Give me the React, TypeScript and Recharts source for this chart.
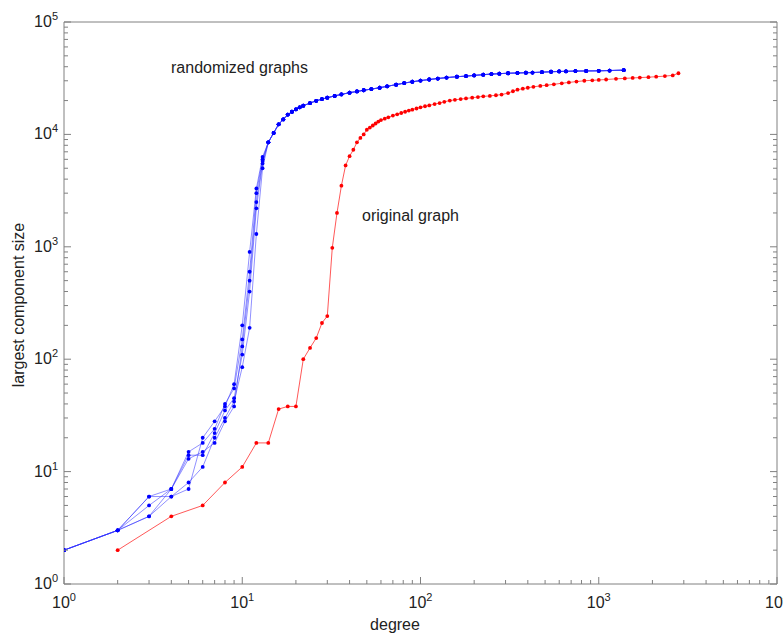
import { LineChart, Line, XAxis, YAxis } from 'recharts';

// degree thresholds where the randomized realisations still differ
const lowDegree = [1, 2, 3, 4, 5, 6, 7, 8, 9, 10, 11, 12, 13];
const rand1 = [2, 3, 6, 7, 15, 18, 24, 40, 55, 150, 600, 3000, 6000];
const rand2 = [2, 3, 5, 7, 14, 14, 22, 35, 45, 110, 400, 2200, 5500];
const rand3 = [2, 3, 4, 6, 8, 11, 20, 30, 42, 85, 190, 1300, 5000];
const rand4 = [2, 3, 6, 6, 7, 20, 28, 38, 60, 200, 900, 3300, 6300];
const rand5 = [2, 3, 4, 7, 13, 15, 18, 28, 38, 130, 500, 2500, 5800];

// above ~14 all realisations sit on top of each other
const upperDegree = [
  14, 15, 16, 17, 18, 19, 20, 21, 22, 24, 26, 28, 30, 33, 36, 40, 44, 48, 53, 59, 65, 73, 81, 90,
  100, 112, 125, 140, 160, 180, 200, 225, 250, 277, 310, 350, 390, 425, 480, 540, 600, 655, 740,
  850, 1000, 1150, 1380,
];
const upperSize = [
  8500, 10300, 12300, 13600, 15000, 15900, 16700, 17400, 18000, 19000, 19900, 20600, 21200, 22000,
  22700, 23500, 24100, 24700, 25300, 26000, 26800, 27700, 28600, 29400, 30100, 30800, 31400, 32000,
  32600, 33000, 33500, 34000, 34400, 34700, 35000, 35200, 35400, 35500, 35800, 36100, 36300, 36400,
  36600, 36700, 36800, 37000, 37300,
];

const origDegree = [
  2, 4, 6, 8, 10, 12, 14, 16, 18, 20, 22, 24, 26, 28, 30, 32, 34, 36, 38, 40, 42, 44, 46, 48, 50,
  52, 54, 56, 58, 60, 63, 66, 70, 74, 78, 82, 86, 90, 95, 100, 106, 112, 120, 128, 136, 146, 156,
  168, 180, 195, 210, 225, 245, 265, 285, 310, 330, 350, 375, 400, 430, 470, 510, 560, 620, 680,
  750, 830, 920, 1000, 1100, 1250, 1400, 1550, 1700, 1900, 2100, 2350, 2600, 2800,
];
const origSize = [
  2, 4, 5, 8, 11, 18, 18, 36, 38, 38, 100, 126, 154, 210, 242, 980, 2000, 3500, 5300, 6400, 7300,
  8500, 9300, 10000, 11000, 11500, 12000, 12500, 13000, 13400, 13800, 14200, 14700, 15100, 15500,
  15900, 16300, 16600, 17000, 17400, 17800, 18100, 18600, 19000, 19500, 20000, 20300, 20600, 20900,
  21200, 21500, 21800, 22000, 22300, 22600, 23300, 24200, 25000, 25500, 26000, 26500, 27000, 27400,
  27900, 28500, 29000, 29500, 30000, 30300, 30500, 30800, 31200, 31500, 31800, 32000, 32300, 32600,
  33000, 33500, 35000,
];

const xMajor = [1, 10, 100, 1000, 10000];
const yMajor = [1, 10, 100, 1000, 10000, 100000];
const minorSteps = [2, 3, 4, 5, 6, 7, 8, 9];

const withMinor = (majors: number[]) =>
  majors.flatMap((m, i) => (i < majors.length - 1 ? [m, ...minorSteps.map((s) => s * m)] : [m]));
const xTicks = withMinor(xMajor);
const yTicks = withMinor(yMajor);

const randomized = [rand1, rand2, rand3, rand4, rand5].map((sizes) => [
  ...lowDegree.map((d, i) => ({ x: d, y: sizes[i] })),
  ...upperDegree.map((d, i) => ({ x: d, y: upperSize[i] })),
]);
const original = origDegree.map((d, i) => ({ x: d, y: origSize[i] }));

const AXIS = '#808080';
const FONT = '"Liberation Sans", Arial, Helvetica, sans-serif';
const isMajor = (v: number) => Math.abs(Math.log10(v) - Math.round(Math.log10(v))) < 1e-9;

function Pow({ x, y, v, anchor }: { x: number; y: number; v: number; anchor: 'middle' | 'end' }) {
  return (
    <text x={x} y={y} textAnchor={anchor} fontSize={16} fontFamily={FONT} fill="#222">
      <tspan>10</tspan>
      <tspan dy={-7} fontSize={11}>
        {Math.round(Math.log10(v))}
      </tspan>
    </text>
  );
}

function BottomTick({ x, y, payload }: any) {
  const major = isMajor(payload.value);
  return (
    <g>
      <line x1={x} y1={y} x2={x} y2={y - (major ? 7 : 4)} stroke={AXIS} />
      {major && <Pow x={x} y={y + 24} v={payload.value} anchor="middle" />}
    </g>
  );
}

function TopTick({ x, y, payload }: any) {
  const major = isMajor(payload.value);
  return <line x1={x} y1={y} x2={x} y2={y + (major ? 7 : 4)} stroke={AXIS} />;
}

function LeftTick({ x, y, payload }: any) {
  const major = isMajor(payload.value);
  return (
    <g>
      <line x1={x} y1={y} x2={x + (major ? 7 : 4)} y2={y} stroke={AXIS} />
      {major && <Pow x={x - 6} y={y + 5} v={payload.value} anchor="end" />}
    </g>
  );
}

function RightTick({ x, y, payload }: any) {
  const major = isMajor(payload.value);
  return <line x1={x} y1={y} x2={x - (major ? 7 : 4)} y2={y} stroke={AXIS} />;
}

export default function App() {
  return (
    <div style={{ position: 'absolute', left: 0, top: 0, width: 783, height: 637, fontFamily: FONT }}>
      <LineChart width={783} height={637} margin={{ top: 21, right: 5, bottom: 0, left: 0 }}>
        <XAxis
          xAxisId="x"
          dataKey="x"
          type="number"
          scale="log"
          domain={[1, 10000]}
          allowDataOverflow
          ticks={xTicks}
          interval={0}
          tickSize={0}
          tickMargin={0}
          tickLine={false}
          tick={BottomTick}
          height={53}
          axisLine={{ stroke: AXIS }}
        />
        <XAxis
          xAxisId="top"
          orientation="top"
          type="number"
          scale="log"
          domain={[1, 10000]}
          allowDataOverflow
          ticks={xTicks}
          interval={0}
          tickSize={0}
          tickMargin={0}
          tickLine={false}
          tick={TopTick}
          height={1}
          axisLine={{ stroke: AXIS }}
        />
        <YAxis
          yAxisId="y"
          type="number"
          scale="log"
          domain={[1, 100000]}
          allowDataOverflow
          ticks={yTicks}
          interval={0}
          tickSize={0}
          tickMargin={0}
          tickLine={false}
          tick={LeftTick}
          width={64}
          axisLine={{ stroke: AXIS }}
        />
        <YAxis
          yAxisId="right"
          orientation="right"
          type="number"
          scale="log"
          domain={[1, 100000]}
          allowDataOverflow
          ticks={yTicks}
          interval={0}
          tickSize={0}
          tickMargin={0}
          tickLine={false}
          tick={RightTick}
          width={1}
          axisLine={{ stroke: AXIS }}
        />
        {randomized.map((data, i) => (
          <Line
            key={`rand${i}`}
            xAxisId="x"
            yAxisId="y"
            data={data}
            dataKey="y"
            type="linear"
            stroke="#3030ff"
            strokeOpacity={0.6}
            strokeWidth={0.9}
            dot={{ r: 1.9, fill: '#0000ff', stroke: 'none' }}
            isAnimationActive={false}
          />
        ))}
        <Line
          xAxisId="x"
          yAxisId="y"
          data={original}
          dataKey="y"
          type="linear"
          stroke="#ff2020"
          strokeOpacity={0.75}
          strokeWidth={1}
          dot={{ r: 1.9, fill: '#ff0000', stroke: 'none' }}
          isAnimationActive={false}
        />
      </LineChart>
      <svg
        width={783}
        height={637}
        style={{ position: 'absolute', left: 0, top: 0, pointerEvents: 'none' }}
      >
        <text x={171} y={73} fontSize={16} fontFamily={FONT} fill="#222">
          randomized graphs
        </text>
        <text x={362} y={221} fontSize={16} fontFamily={FONT} fill="#222">
          original graph
        </text>
        <text x={395} y={630} fontSize={16} fontFamily={FONT} fill="#222" textAnchor="middle">
          degree
        </text>
        <text
          x={0}
          y={0}
          fontSize={16}
          fontFamily={FONT}
          fill="#222"
          textAnchor="middle"
          transform="translate(24,305) rotate(-90)"
        >
          largest component size
        </text>
      </svg>
    </div>
  );
}
